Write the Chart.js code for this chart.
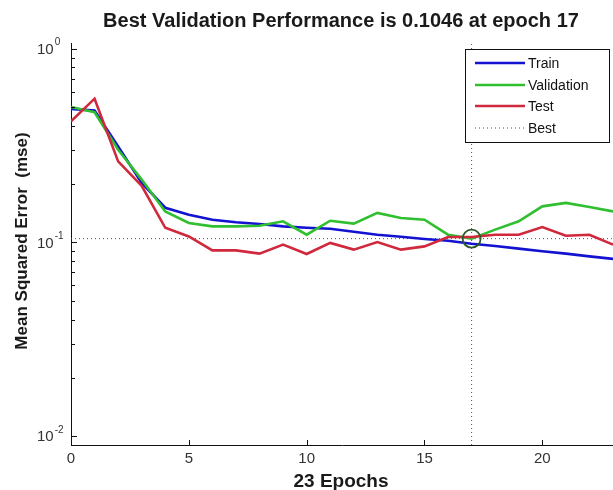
<!DOCTYPE html>
<html>
<head>
<meta charset="utf-8">
<script src="https://cdn.jsdelivr.net/npm/chart.js@4/dist/chart.umd.min.js"></script>
<style>
  html, body { margin: 0; padding: 0; background: #fff; }
  #wrap { width: 613px; height: 490px; }
</style>
</head>
<body>
<div id="wrap"><canvas id="perfChart" width="613" height="490"></canvas></div>
<script>
// values
const epochs = [0, 1, 2, 3, 4, 5, 6, 7, 8, 9, 10, 11, 12, 13, 14, 15, 16, 17, 18, 19, 20, 21, 22, 23];
const trainMse = [0.489, 0.479, 0.313, 0.203, 0.151, 0.139, 0.131, 0.127, 0.1245, 0.121, 0.119, 0.1177,
  0.1135, 0.1096, 0.107, 0.1042, 0.102, 0.0985, 0.0959, 0.0929, 0.090, 0.0875, 0.0847, 0.0822];
const validationMse = [0.50, 0.47, 0.301, 0.211, 0.1445, 0.126, 0.121, 0.121, 0.122, 0.1285, 0.1096, 0.1294,
  0.125, 0.142, 0.1336, 0.131, 0.1096, 0.1046, 0.1164, 0.1285, 0.1535, 0.160, 0.1525, 0.1445];
const testMse = [0.422, 0.552, 0.262, 0.196, 0.119, 0.1074, 0.091, 0.091, 0.0875, 0.0974, 0.0871, 0.0994,
  0.0918, 0.1005, 0.0918, 0.0954, 0.1067, 0.1067, 0.1096, 0.1096, 0.120, 0.1083, 0.1096, 0.0974];
const bestEpoch = 17;
const bestMse = 0.1046;
const xTickValues = [0, 5, 10, 15, 20];
const yTickValues = [0.01, 0.1, 1];
const yTickExponents = ['-2', '-1', '0'];
const xRange = [0, 23];
const yRange = [0.009, 1.07];

function points(ys) {
  return epochs.map((e, i) => ({ x: e, y: ys[i] }));
}

const matlabAxes = {
  id: 'matlabAxes',
  afterDraw(chart) {
    const ctx = chart.ctx;
    const xs = chart.scales.x, ys = chart.scales.y;
    const area = chart.chartArea;
    ctx.save();
    ctx.strokeStyle = '#111';
    ctx.lineWidth = 1;

    // inward ticks
    ctx.beginPath();
    xTickValues.forEach(v => {
      const px = Math.round(xs.getPixelForValue(v)) + 0.5;
      ctx.moveTo(px, area.bottom);
      ctx.lineTo(px, area.bottom - 5);
    });
    for (let d = -2; d <= 0; d++) {
      for (let m = 1; m <= 9; m++) {
        const v = m * Math.pow(10, d);
        if (v < yRange[0] || v > yRange[1]) continue;
        const py = Math.round(ys.getPixelForValue(v)) + 0.5;
        ctx.moveTo(area.left, py);
        ctx.lineTo(area.left + (m === 1 ? 6 : 4), py);
      }
    }
    ctx.stroke();

    // y tick labels 10^n
    ctx.fillStyle = '#333';
    ctx.textBaseline = 'middle';
    ctx.textAlign = 'left';
    yTickValues.forEach((v, i) => {
      const py = ys.getPixelForValue(v);
      ctx.font = '15px "Liberation Sans", Arial, sans-serif';
      ctx.fillText('10', 37, py + 1);
      const w = ctx.measureText('10').width;
      ctx.font = '10px "Liberation Sans", Arial, sans-serif';
      ctx.fillText(yTickExponents[i], 37 + w + 1, py - 6);
    });

    // x tick labels
    ctx.font = '15px "Liberation Sans", Arial, sans-serif';
    ctx.textAlign = 'center';
    xTickValues.forEach(v => {
      ctx.fillText(String(v), xs.getPixelForValue(v), 459);
    });

    // title and axis labels
    ctx.fillStyle = '#1a1a1a';
    ctx.textAlign = 'center';
    ctx.textBaseline = 'alphabetic';
    ctx.font = 'bold 20px "Liberation Sans", Arial, sans-serif';
    ctx.fillText('Best Validation Performance is 0.1046 at epoch 17', 341, 27);
    ctx.font = 'bold 19px "Liberation Sans", Arial, sans-serif';
    ctx.fillText('23 Epochs', 341, 487);
    ctx.save();
    ctx.translate(27, 241);
    ctx.rotate(-Math.PI / 2);
    ctx.font = 'bold 17px "Liberation Sans", Arial, sans-serif';
    ctx.fillText('Mean Squared Error  (mse)', 0, 0);
    ctx.restore();

    // legend box
    const box = { left: 465, top: 49, right: 609, bottom: 142 };
    ctx.fillStyle = '#fff';
    ctx.fillRect(box.left, box.top, box.right - box.left, box.bottom - box.top);
    ctx.strokeStyle = '#111';
    ctx.strokeRect(box.left + 0.5, box.top + 0.5, box.right - box.left, box.bottom - box.top);
    const rows = [63, 85, 106, 128];
    chart.data.datasets.slice(0, 4).forEach((ds, i) => {
      ctx.beginPath();
      ctx.strokeStyle = ds.borderColor;
      ctx.lineWidth = ds.borderWidth;
      ctx.setLineDash(ds.borderDash || []);
      ctx.moveTo(475, rows[i]);
      ctx.lineTo(525, rows[i]);
      ctx.stroke();
      ctx.setLineDash([]);
      ctx.fillStyle = '#111';
      ctx.textAlign = 'left';
      ctx.textBaseline = 'middle';
      ctx.font = '14px "Liberation Sans", Arial, sans-serif';
      ctx.fillText(ds.label, 528, rows[i] + 1);
    });
    ctx.restore();
  }
};

new Chart(document.getElementById('perfChart'), {
  type: 'line',
  data: {
    datasets: [
      { label: 'Train', data: points(trainMse), borderColor: '#1212d0', borderWidth: 2.6, order: 4 },
      { label: 'Validation', data: points(validationMse), borderColor: '#2fbf2f', borderWidth: 2.6, order: 3 },
      { label: 'Test', data: points(testMse), borderColor: '#d0283c', borderWidth: 2.6, order: 2 },
      {
        label: 'Best',
        data: [{ x: xRange[0], y: bestMse }, { x: xRange[1], y: bestMse }],
        borderColor: '#555', borderWidth: 1, borderDash: [1, 3], order: 5
      },
      {
        label: 'Best vertical',
        data: [{ x: bestEpoch, y: yRange[0] }, { x: bestEpoch, y: yRange[1] }],
        borderColor: '#555', borderWidth: 1, borderDash: [1, 3], order: 5
      },
      {
        label: 'Best point',
        data: [{ x: bestEpoch, y: bestMse }],
        showLine: false, pointRadius: 9, pointStyle: 'circle',
        pointBorderColor: '#2b5a2b', pointBorderWidth: 1.8, pointBackgroundColor: 'rgba(0,0,0,0)', order: 1
      }
    ]
  },
  options: {
    responsive: false,
    animation: false,
    layout: { autoPadding: false, padding: { top: 43, right: 0, left: 0, bottom: 0 } },
    elements: { point: { radius: 0 }, line: { tension: 0 } },
    plugins: { legend: { display: false }, title: { display: false }, tooltip: { enabled: false } },
    scales: {
      x: {
        type: 'linear',
        min: xRange[0], max: xRange[1],
        afterBuildTicks: s => { s.ticks = xTickValues.map(v => ({ value: v })); },
        afterFit: s => { s.height = 45; s.paddingLeft = 0; s.paddingRight = 0; },
        grid: { display: false },
        border: { display: true, color: '#111', width: 1 },
        ticks: { display: false }
      },
      y: {
        type: 'logarithmic',
        min: yRange[0], max: yRange[1],
        afterBuildTicks: s => { s.ticks = yTickValues.map(v => ({ value: v })); },
        afterFit: s => { s.width = 71; s.paddingTop = 0; s.paddingBottom = 0; },
        grid: { display: false },
        border: { display: true, color: '#111', width: 1 },
        ticks: { display: false }
      }
    }
  },
  plugins: [matlabAxes]
});
</script>
</body>
</html>
